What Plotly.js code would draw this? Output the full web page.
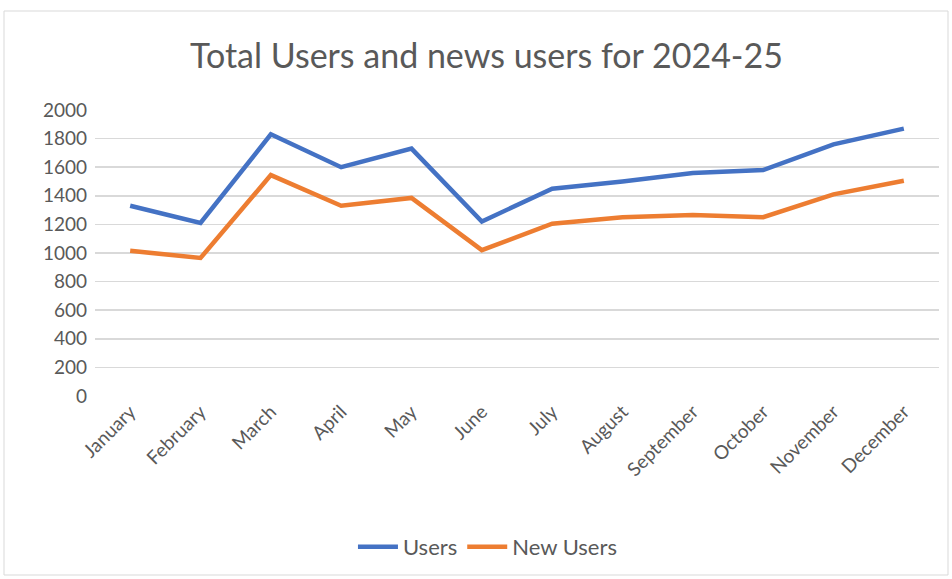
<!DOCTYPE html>
<html><head><meta charset="utf-8">
<script src="https://cdn.plot.ly/plotly-3.0.1.min.js"></script>
<style>html,body{margin:0;padding:0;background:#fff}#c{width:952px;height:579px}</style>
</head><body><div id="c"></div>
<script>
const months = ["January","February","March","April","May","June","July","August","September","October","November","December"];
const users = [1330,1210,1830,1600,1730,1220,1450,1500,1560,1580,1760,1870];
const newUsers = [1015,965,1545,1330,1385,1020,1205,1250,1265,1250,1410,1505];
const yTicks = [0,200,400,600,800,1000,1200,1400,1600,1800,2000];

const font = "Lato, 'Open Sans', sans-serif";
const traces = [
  {x: months, y: users, name: "Users", type: "scatter", mode: "lines",
   line: {color: "#4472C4", width: 4.5}},
  {x: months, y: newUsers, name: "New Users", type: "scatter", mode: "lines",
   line: {color: "#ED7D31", width: 4.5}}
];
const layout = {
  width: 952, height: 579,
  paper_bgcolor: "#fff", plot_bgcolor: "#fff",
  margin: {l: 95, r: 13, t: 110, b: 183},
  font: {family: font, color: "#595959", size: 18},
  title: {text: "Total Users and news users for 2024-25", x: 0.511, xref: "container", xanchor: "center",
          y: 1 - 56/579, yref: "container", yanchor: "middle",
          font: {family: font, size: 34, color: "#595959"}},
  xaxis: {type: "category", range: [-0.5, 11.5], showgrid: false, showline: false, zeroline: false,
          tickangle: -45, ticks: "", tickfont: {size: 19, color: "#595959"}},
  yaxis: {range: [0, 2000], tickvals: yTicks, showgrid: true, gridcolor: "#d9d9d9", gridwidth: 1.5,
          zeroline: false, showline: false, ticks: "", ticklabelstandoff: 7,
          tickfont: {size: 19, color: "#595959"}},
  legend: {orientation: "h", x: 0.465, xanchor: "center", y: 32/579, yref: "container", yanchor: "middle",
           font: {size: 22, color: "#595959"}, itemwidth: 40, traceorder: "normal"},
  showlegend: true,
  shapes: [{type: "rect", xref: "paper", yref: "paper",
            x0: -91/844, x1: 1 + 9/844, y0: -179/286, y1: 1 + 99/286,
            line: {color: "#d9d9d9", width: 1}, fillcolor: "rgba(0,0,0,0)"}]
};
Plotly.newPlot("c", traces, layout, {displayModeBar: false, staticPlot: true});
</script>
</body></html>
